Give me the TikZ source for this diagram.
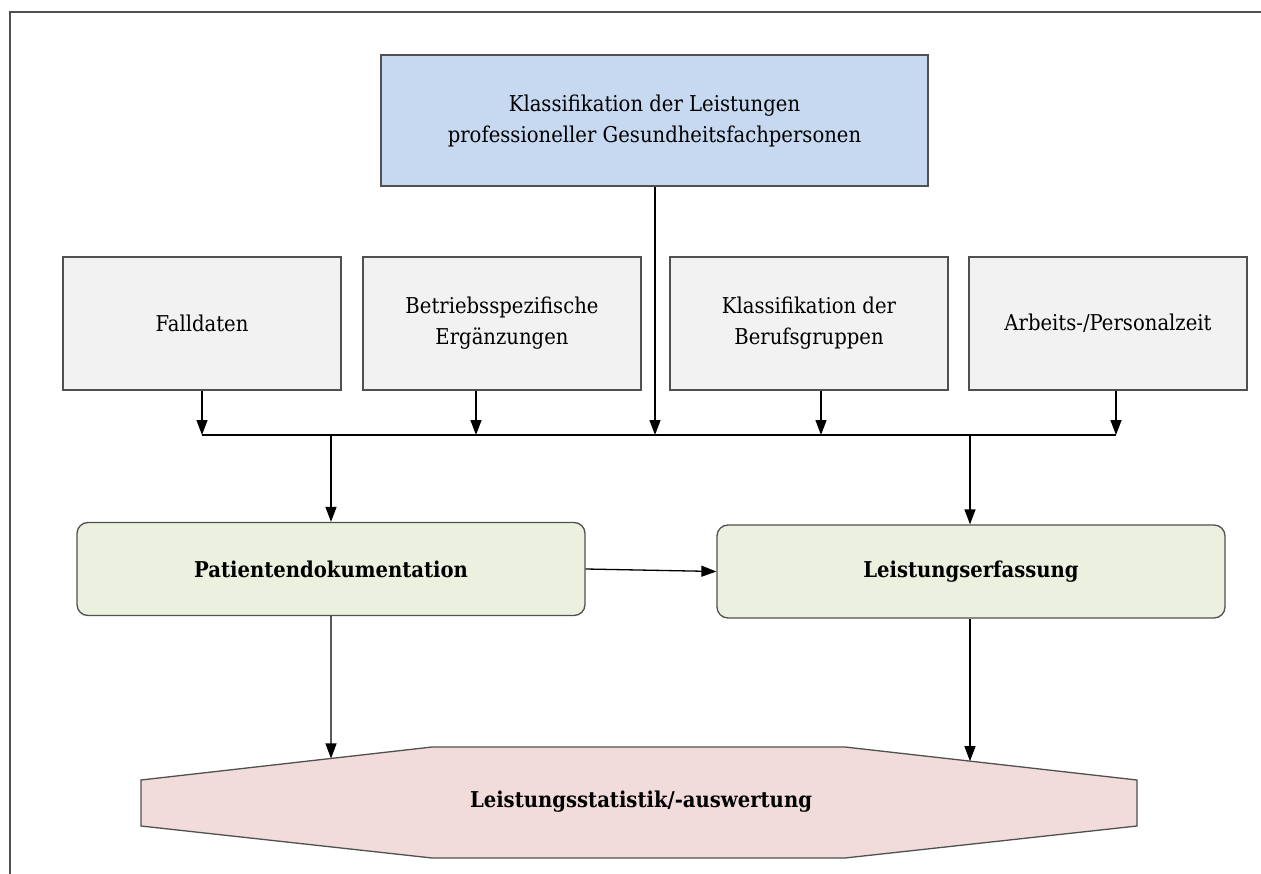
\documentclass[tikz,border=0pt]{standalone}
\usepackage{fontspec}
\setmainfont{DejaVu Serif}[FakeStretch=0.9]
\usetikzlibrary{arrows.meta,calc}
\definecolor{topblue}{HTML}{C6D9F1}
\definecolor{inputgray}{HTML}{F2F2F2}
\definecolor{procgreen}{HTML}{EBF1DE}
\definecolor{resultpink}{HTML}{F2DCDB}
\definecolor{edge}{HTML}{505050}
\begin{document}
\begin{tikzpicture}[x=1pt,y=-1pt,
  labelfont/.style={font=\fontsize{21.8}{31}\selectfont},
  box/.style={draw=edge, line width=1.3pt, inner sep=0pt, align=center, labelfont},
  inputbox/.style={box, fill=inputgray, minimum width=278pt, minimum height=133pt},
  procbox/.style={box, fill=procgreen, rounded corners=11pt, minimum width=508pt,
    minimum height=93pt, font=\fontsize{21.8}{31}\selectfont\bfseries},
  flow/.style={draw=black, line width=1.3pt, -{Triangle[length=15pt,width=11pt]}},
  bus/.style={draw=black, line width=1.3pt}]
\useasboundingbox (0,0) rectangle (1261,874);

% outer frame, cut by the page edge
\draw[edge, line width=1.6pt] (10,874) -- (10,12) -- (1261,12);

% classification source
\node[box, fill=topblue, minimum width=547pt, minimum height=131pt] (klass)
  at (654.5,120.5) {Klassifikation der Leistungen\\professioneller Gesundheitsfachpersonen};

% input boxes
\node[inputbox] (fall) at (202,323.5) {Falldaten};
\node[inputbox] (betr) at (502,323.5) {Betriebsspezifische\\Ergänzungen};
\node[inputbox] (beruf) at (809,323.5) {Klassifikation der\\Berufsgruppen};
\node[inputbox] (zeit) at (1108,323.5) {Arbeits-/Personalzeit};

% collecting bus
\coordinate (b1) at (202,435);
\coordinate (b2) at (476,435);
\coordinate (b3) at (655,435);
\coordinate (b4) at (821,435);
\coordinate (b5) at (1116,435);
\coordinate (bl) at (331,435);
\coordinate (br) at (970,435);
\draw[bus] (b1) -- (b5);

\draw[flow] (fall.south) -- (b1);
\draw[flow] (b2 |- betr.south) -- (b2);
\draw[flow] (b3 |- klass.south) -- (b3);
\draw[flow] (b4 |- beruf.south) -- (b4);
\draw[flow] (b5 |- zeit.south) -- (b5);

% processing boxes
\node[procbox] (pat) at (331,569) {Patientendokumentation};
\node[procbox] (leist) at (971,571.5) {Leistungserfassung};

\draw[flow] (bl) -- (pat.north);
\draw[flow] (br) -- (br |- leist.north);
\draw[flow] (pat.east) -- (leist.west);

% result octagon
\coordinate (o1) at (141,780);
\coordinate (o2) at (432,747);
\coordinate (o3) at (845,747);
\coordinate (o4) at (1137,780);
\coordinate (o5) at (1137,826);
\coordinate (o6) at (845,858);
\coordinate (o7) at (432,858);
\coordinate (o8) at (141,826);
\draw[edge, line width=1.3pt, fill=resultpink] (o1) -- (o2) -- (o3) -- (o4) -- (o5) -- (o6) -- (o7) -- (o8) -- cycle;
\node[font=\fontsize{21.8}{31}\selectfont\bfseries] (stat) at (641,802) {Leistungsstatistik/-auswertung};
\coordinate (sl) at ($(o1)!0.653!(o2)$);
\coordinate (sr) at ($(o3)!0.428!(o4)$);

\draw[flow] (pat.south) -- (sl);
\draw[flow] (leist.south -| sr) -- (sr);
\end{tikzpicture}
\end{document}
